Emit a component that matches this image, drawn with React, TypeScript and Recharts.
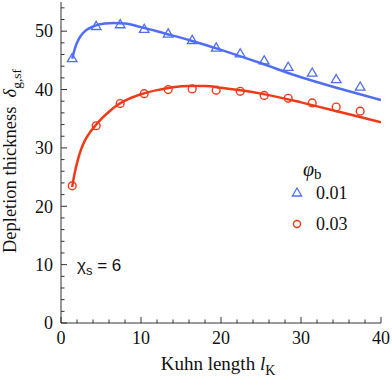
import React from 'react';
import { ComposedChart, Line, Scatter, XAxis, YAxis } from 'recharts';

// Simulation points (markers)
const markerX = [1.4, 4.4, 7.4, 10.4, 13.4, 16.4, 19.4, 22.4, 25.4, 28.4, 31.4, 34.4, 37.4];
const sim001 = [45.3, 50.8, 51.1, 50.3, 49.5, 48.4, 47.1, 46.1, 44.9, 43.8, 42.8, 41.7, 40.4];
const sim003 = [23.5, 33.8, 37.6, 39.3, 40.0, 40.1, 39.9, 39.7, 39.0, 38.5, 37.7, 37.0, 36.3];

// Theory curves
const fitX001 = [1.4, 1.8, 2.2, 2.7, 3.4, 4.4, 5.5, 6.5, 8, 10, 13, 16, 20, 25, 30, 35, 40];
const fit001 = [45.3, 47.3, 48.6, 49.6, 50.4, 51.0, 51.3, 51.4, 51.3, 50.7, 49.6, 48.5, 46.8, 44.5, 42.1, 40.1, 38.2];
const fitX003 = [1.4, 1.7, 2, 2.5, 3, 3.7, 4.4, 5.2, 6, 7, 8, 10, 12, 14, 16, 18, 20, 25, 30, 35, 40];
const fit003 = [23.3, 25.6, 27.4, 29.7, 31.3, 32.8, 34.0, 35.2, 36.2, 37.3, 38.1, 39.2, 39.9, 40.4, 40.6, 40.6, 40.3, 39.3, 37.8, 36.1, 34.4];

const xTicks = [0, 2, 4, 6, 8, 10, 12, 14, 16, 18, 20, 22, 24, 26, 28, 30, 32, 34, 36, 38, 40];
const yTicks = [0, 2, 4, 6, 8, 10, 12, 14, 16, 18, 20, 22, 24, 26, 28, 30, 32, 34, 36, 38, 40, 42, 44, 46, 48, 50, 52, 54];
const majorStep = 10;
const legendTitle = 'φ';
const legendLabels = ['0.01', '0.03'];

const BLUE = '#4f6ef5';
const RED = '#ee3a18';
const AXIS = '#333';
const SERIF = '"Liberation Serif", "Times New Roman", serif';

const toPts = (xs: number[], ys: number[]) => xs.map((x, i) => ({ x, y: ys[i] }));
const simData001 = toPts(markerX, sim001);
const simData003 = toPts(markerX, sim003);
const fitData001 = toPts(fitX001, fit001);
const fitData003 = toPts(fitX003, fit003);

const MAJ = 6;
const MIN = 3.5;

const BottomTick = (p: any) => {
  const v = p.payload.value;
  const major = v % majorStep === 0;
  const ay = p.y - 8;
  return (
    <g>
      <line x1={p.x} x2={p.x} y1={ay} y2={ay - (major ? MAJ : MIN)} stroke={AXIS} strokeWidth={1} />
      {major && (
        <text x={p.x} y={p.y} dy="0.71em" textAnchor="middle" fontFamily={SERIF} fontSize={18} fill="#111">
          {v}
        </text>
      )}
    </g>
  );
};
const TopTick = (p: any) => {
  const v = p.payload.value;
  const major = v % majorStep === 0;
  return <line x1={p.x} x2={p.x} y1={p.y} y2={p.y + (major ? MAJ : MIN)} stroke={AXIS} strokeWidth={1} />;
};
const LeftTick = (p: any) => {
  const v = p.payload.value;
  const major = v % majorStep === 0;
  const ax = p.x + 8;
  return (
    <g>
      <line x1={ax} x2={ax + (major ? MAJ : MIN)} y1={p.y} y2={p.y} stroke={AXIS} strokeWidth={1} />
      {major && (
        <text x={p.x} y={p.y} dy="0.35em" textAnchor="end" fontFamily={SERIF} fontSize={18} fill="#111">
          {v}
        </text>
      )}
    </g>
  );
};
const RightTick = (p: any) => {
  const v = p.payload.value;
  const major = v % majorStep === 0;
  return <line x1={p.x} x2={p.x - (major ? MAJ : MIN)} y1={p.y} y2={p.y} stroke={AXIS} strokeWidth={1} />;
};

const Tri = (p: any) => {
  const { cx, cy } = p;
  if (cx == null || cy == null) return null;
  return (
    <polygon
      points={`${cx},${cy - 5.2} ${cx - 4.8},${cy + 3} ${cx + 4.8},${cy + 3}`}
      fill="none"
      stroke={BLUE}
      strokeWidth={1.3}
    />
  );
};
const Circ = (p: any) => {
  const { cx, cy } = p;
  if (cx == null || cy == null) return null;
  return <circle cx={cx} cy={cy} r={3.9} fill="none" stroke={RED} strokeWidth={1.4} />;
};

export default function App() {
  return (
    <div style={{ position: 'absolute', left: 0, top: 0, width: 392, height: 383, background: '#fff' }}>
      <ComposedChart width={392} height={383} margin={{ top: 2, right: 11, bottom: 0, left: 0 }}>
        <XAxis
          xAxisId="b"
          type="number"
          dataKey="x"
          domain={[0, 40]}
          ticks={xTicks}
          interval={0}
          height={60}
          tickSize={0}
          tickMargin={8}
          tickLine={false}
          axisLine={{ stroke: AXIS, strokeWidth: 1 }}
          tick={<BottomTick />}
          allowDataOverflow
        />
        <XAxis
          xAxisId="t"
          orientation="top"
          type="number"
          dataKey="x"
          domain={[0, 40]}
          ticks={xTicks}
          interval={0}
          height={0}
          tickSize={0}
          tickMargin={0}
          tickLine={false}
          axisLine={{ stroke: AXIS, strokeWidth: 1 }}
          tick={<TopTick />}
          allowDataOverflow
        />
        <YAxis
          yAxisId="l"
          type="number"
          dataKey="y"
          domain={[0, 55]}
          ticks={yTicks}
          interval={0}
          width={61}
          tickSize={0}
          tickMargin={8}
          tickLine={false}
          axisLine={{ stroke: AXIS, strokeWidth: 1 }}
          tick={<LeftTick />}
          allowDataOverflow
        />
        <YAxis
          yAxisId="r"
          orientation="right"
          type="number"
          dataKey="y"
          domain={[0, 55]}
          ticks={yTicks}
          interval={0}
          width={0}
          tickSize={0}
          tickMargin={0}
          tickLine={false}
          axisLine={{ stroke: AXIS, strokeWidth: 1 }}
          tick={<RightTick />}
          allowDataOverflow
        />
        <Line
          xAxisId="b"
          yAxisId="l"
          data={fitData001}
          dataKey="y"
          type="monotone"
          stroke={BLUE}
          strokeWidth={2.5}
          dot={false}
          activeDot={false}
          isAnimationActive={false}
        />
        <Line
          xAxisId="b"
          yAxisId="l"
          data={fitData003}
          dataKey="y"
          type="monotone"
          stroke={RED}
          strokeWidth={2.5}
          dot={false}
          activeDot={false}
          isAnimationActive={false}
        />
        <Scatter xAxisId="b" yAxisId="l" data={simData001} dataKey="y" shape={<Tri />} isAnimationActive={false} />
        <Scatter xAxisId="b" yAxisId="l" data={simData003} dataKey="y" shape={<Circ />} isAnimationActive={false} />
      </ComposedChart>
      <svg
        width={392}
        height={383}
        style={{ position: 'absolute', left: 0, top: 0, pointerEvents: 'none' }}
      >
        {/* x-axis title */}
        <text x={218} y={370} textAnchor="middle" fontFamily={SERIF} fontSize={19} fill="#111">
          Kuhn length <tspan fontStyle="italic">l</tspan>
          <tspan fontSize={14} dy={5}>K</tspan>
        </text>
        {/* y-axis title */}
        <text
          transform="translate(16,161) rotate(-90)"
          textAnchor="middle"
          fontFamily={SERIF}
          fontSize={18.5}
          fill="#111"
        >
          Depletion thickness{'\u2002'}<tspan fontStyle="italic">δ</tspan>
          <tspan fontSize={13.5} dy={5}>g,sf</tspan>
        </text>
        {/* chi annotation */}
        <text x={77} y={271} fontFamily='"Liberation Sans", Arial, sans-serif' fontSize={17} fill="#111">
          χ<tspan fontSize={13} dy={4}>s</tspan>
          <tspan dy={-4}> = 6</tspan>
        </text>
        {/* legend */}
        <text x={303} y={176} fontFamily={SERIF} fontSize={20} fill="#111">
          <tspan fontStyle="italic">{legendTitle}</tspan>
          <tspan fontSize={15} dy={3}>b</tspan>
        </text>
        <polygon points="297,188 292.4,196 301.6,196" fill="none" stroke={BLUE} strokeWidth={1.3} />
        <text x={316} y={199} fontFamily={SERIF} fontSize={18} fill="#111">{legendLabels[0]}</text>
        <circle cx={297} cy={224} r={3.5} fill="none" stroke={RED} strokeWidth={1.4} />
        <text x={316} y={230} fontFamily={SERIF} fontSize={18} fill="#111">{legendLabels[1]}</text>
      </svg>
    </div>
  );
}
